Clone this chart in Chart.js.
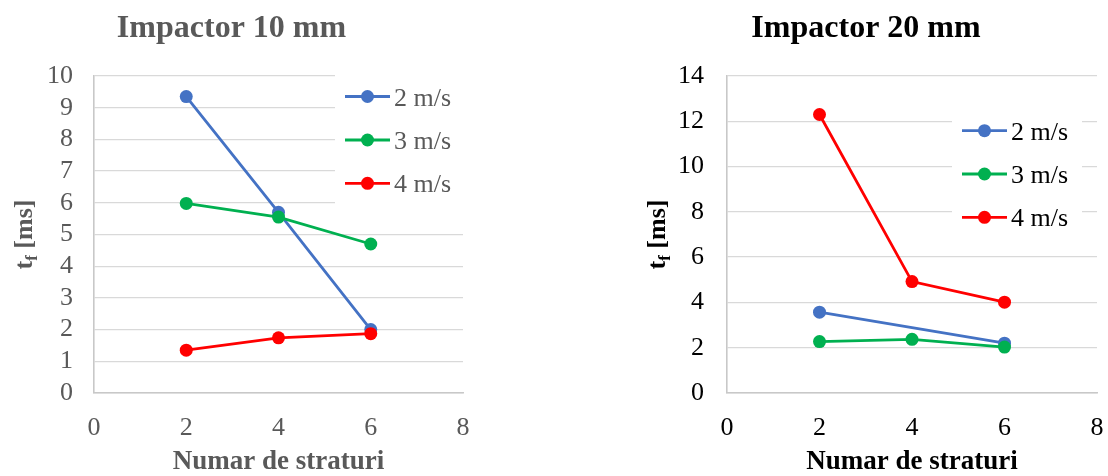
<!DOCTYPE html>
<html>
<head>
<meta charset="utf-8">
<script src="https://cdn.jsdelivr.net/npm/chart.js@4"></script>
<style>
  html, body { margin: 0; padding: 0; background: #fff; }
  body { width: 1108px; height: 476px; position: relative; overflow: hidden; }
  .box { position: absolute; top: 0; width: 554px; height: 476px; }
  #b1 { left: 0; }
  #b2 { left: 554px; }
</style>
</head>
<body>
<div class="box" id="b1"><canvas id="c1" width="554" height="476"></canvas></div>
<div class="box" id="b2"><canvas id="c2" width="554" height="476"></canvas></div>
<script>
// ---- data ----
const layers = [2, 4, 6];
const seriesNames = ['2 m/s', '3 m/s', '4 m/s'];
const seriesColors = ['#4472C4', '#00B050', '#FF0000'];
// Impactor 10 mm
const imp10_2 = [9.35, 5.70, 2.00];
const imp10_3 = [5.98, 5.55, 4.70];
const imp10_4 = [1.35, 1.74, 1.87];
// Impactor 20 mm
const imp20_2 = [3.57, null, 2.20];
const imp20_3 = [2.27, 2.37, 2.03];
const imp20_4 = [12.30, 4.92, 4.01];
const xTicks = [0, 2, 4, 6, 8];
const yTicks10 = [0, 1, 2, 3, 4, 5, 6, 7, 8, 9, 10];
const yTicks20 = [0, 2, 4, 6, 8, 10, 12, 14];

const FONT = "'Liberation Serif', 'Times New Roman', serif";

function makeDatasets(vals) {
  return vals.map((arr, i) => ({
    label: seriesNames[i],
    data: layers.map((x, j) => ({ x: x, y: arr[j] })),
    borderColor: seriesColors[i],
    backgroundColor: seriesColors[i],
    pointBackgroundColor: seriesColors[i],
    pointBorderColor: seriesColors[i],
    pointRadius: 6.5,
    pointBorderWidth: 0,
    borderWidth: 2.8,
    spanGaps: true,
    order: 3 - i,
    tension: 0
  }));
}

const customPlugin = {
  id: 'customDecor',
  afterDraw(chart, args, opts) {
    const ctx = chart.ctx;
    const ca = chart.chartArea;
    ctx.save();
    // legend background
    ctx.fillStyle = '#ffffff';
    ctx.fillRect(opts.legBox[0], opts.legBox[1], opts.legBox[2], opts.legBox[3]);
    // legend items
    seriesNames.forEach((name, i) => {
      const y = opts.legY[i];
      ctx.strokeStyle = seriesColors[i];
      ctx.lineWidth = 2.8;
      ctx.beginPath();
      ctx.moveTo(opts.legX, y);
      ctx.lineTo(opts.legX + 45, y);
      ctx.stroke();
      ctx.fillStyle = seriesColors[i];
      ctx.beginPath();
      ctx.arc(opts.legX + 22.5, y, 6.5, 0, Math.PI * 2);
      ctx.fill();
      ctx.fillStyle = opts.color;
      ctx.font = '26px ' + FONT;
      ctx.textAlign = 'left';
      ctx.textBaseline = 'alphabetic';
      ctx.fillText(name, opts.legX + 49, y + 9);
    });
    // y axis title: t_f [ms]
    const cx = opts.yTitleX;
    const cy = (ca.top + ca.bottom) / 2;
    ctx.translate(cx, cy);
    ctx.rotate(-Math.PI / 2);
    ctx.fillStyle = opts.color;
    ctx.textBaseline = 'alphabetic';
    ctx.textAlign = 'left';
    const big = 'bold 26px ' + FONT;
    const small = 'bold 17px ' + FONT;
    ctx.font = big;
    const wT = ctx.measureText('t').width;
    const wRest = ctx.measureText(' [ms]').width;
    ctx.font = small;
    const wF = ctx.measureText('f').width;
    const total = wT + wF + wRest;
    let x0 = -total / 2;
    const base = 8;
    ctx.font = big;
    ctx.fillText('t', x0, base);
    ctx.font = small;
    ctx.fillText('f', x0 + wT, base + 5);
    ctx.font = big;
    ctx.fillText(' [ms]', x0 + wT + wF, base);
    ctx.restore();
  }
};

function makeChart(id, title, vals, yMax, yTicks, color, cfg) {
  return new Chart(document.getElementById(id), {
    type: 'line',
    data: { datasets: makeDatasets(vals) },
    plugins: [customPlugin],
    options: {
      responsive: false,
      animation: false,
      events: [],
      layout: { padding: { left: cfg.padLeft, right: cfg.padRight, top: 0, bottom: 0 } },
      plugins: {
        legend: { display: false },
        tooltip: { enabled: false },
        title: {
          display: true,
          text: title,
          color: color,
          font: { family: FONT, size: 32, weight: 'bold' },
          padding: { top: 10, bottom: 27.6 }
        },
        customDecor: {
          legBox: cfg.legBox, legX: cfg.legX, legY: cfg.legY,
          yTitleX: cfg.yTitleX, color: color
        }
      },
      scales: {
        x: {
          type: 'linear',
          min: 0, max: 8,
          afterBuildTicks(s) { s.ticks = xTicks.map(v => ({ value: v })); },
          afterFit(s) { s.height = 83; s.paddingLeft = 0; s.paddingRight = 0; },
          grid: { display: false, drawTicks: false },
          border: { display: true, color: '#C8C8C8', width: 1.6 },
          ticks: { color: color, font: { family: FONT, size: 26 }, padding: 20, maxRotation: 0, autoSkip: false },
          title: {
            display: true, text: 'Numar de straturi', color: color,
            font: { family: FONT, size: 27, weight: 'bold', lineHeight: 1 },
            padding: { top: 0, bottom: 0 }
          }
        },
        y: {
          min: 0, max: yMax,
          afterBuildTicks(s) { s.ticks = yTicks.map(v => ({ value: v })); },
          afterFit(s) { s.width = cfg.yWidth; },
          grid: { color: '#D9D9D9', lineWidth: 1.3, drawTicks: false },
          border: { display: true, color: '#C8C8C8', width: 1.6 },
          ticks: { color: color, font: { family: FONT, size: 26 }, padding: cfg.tickPad, autoSkip: false }
        }
      }
    }
  });
}

makeChart('c1', 'Impactor 10 mm', [imp10_2, imp10_3, imp10_4], 10, yTicks10, '#595959', {
  padLeft: 0, padRight: 91, yWidth: 94, tickPad: 21,
  legBox: [335, 66, 128, 150], legX: 345, legY: [96.5, 140, 183.3],
  yTitleX: 24
});
makeChart('c2', 'Impactor 20 mm', [imp20_2, imp20_3, imp20_4], 14, yTicks20, '#000000', {
  padLeft: 81, padRight: 11, yWidth: 92, tickPad: 23,
  legBox: [398, 100, 130, 140], legX: 408, legY: [130.7, 174, 217.3],
  yTitleX: 103
});
</script>
</body>
</html>
